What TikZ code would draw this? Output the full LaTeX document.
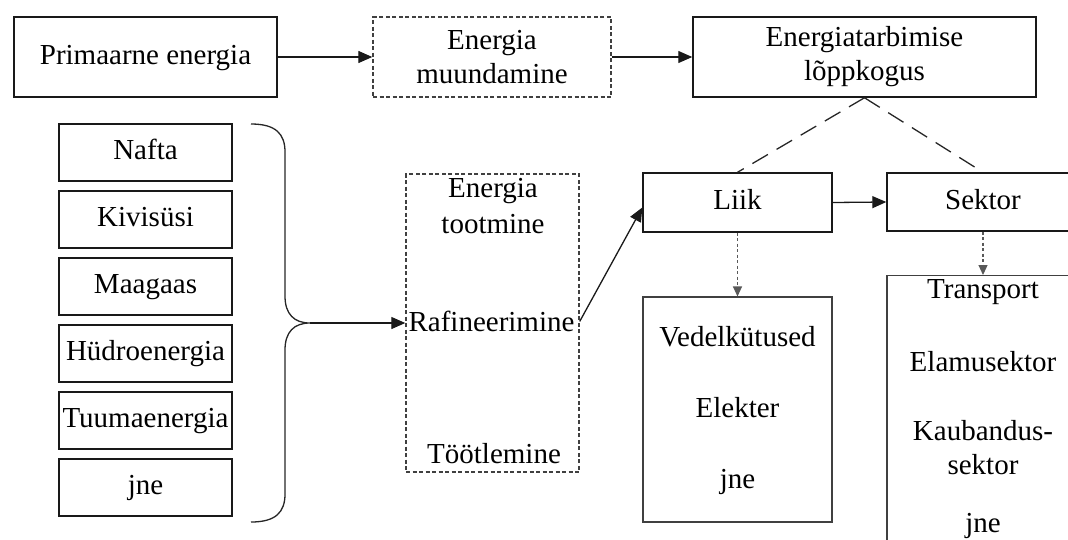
\documentclass[tikz,border=0pt]{standalone}
\usepackage{fontspec}
\setmainfont{Liberation Serif}
\newfontfamily\diagfont{Liberation Serif}
\usetikzlibrary{arrows.meta,calc}
\begin{document}
\begin{tikzpicture}[x=1pt,y=-1pt,
  every node/.style={font=\diagfont\fontsize{29}{34}\selectfont, text=black},
  box/.style={draw=black!90, line width=1.5pt, rectangle, inner sep=0pt, align=center},
  oneline/.style={text height=20pt, text depth=6pt},
  dotbox/.style={draw=black!75, line width=1.4pt, dash pattern=on 4pt off 2.5pt, rectangle, inner sep=0pt, align=center},
  listbox/.style={draw=black!75, line width=1.1pt, rectangle, inner sep=0pt},
  lbl/.style={anchor=base, inner sep=0pt},
  flow/.style={draw=black!90, line width=1.3pt, -{Triangle[length=14pt,width=12pt]}},
  link/.style={draw=black!85, line width=1.3pt, dash pattern=on 18pt off 10pt},
  drop/.style={draw=black!65, line width=1.2pt, dash pattern=on 3pt off 2.5pt, -{Triangle[length=10pt,width=9pt]}},
  bracket/.style={draw=black!85, line width=1.3pt},
]
\useasboundingbox (0,0) rectangle (1068,539);
\clip (0,0) rectangle (1068,539);

% top row
\node[box, oneline, minimum width=263pt, minimum height=80pt] (prim) at (145.5,57) {Primaarne energia};
\node[dotbox, minimum width=238pt, minimum height=80pt] (muund) at (492,57) {Energia\\muundamine};
\node[box, minimum width=343pt, minimum height=80pt] (tarb) at (864.5,57) {Energiatarbimise\\lõppkogus};

\draw[flow] (prim.east) -- (muund.west);
\draw[flow] (muund.east) -- (tarb.west);

% energy sources
\foreach \t [count=\i] in {Nafta, Kivisüsi, Maagaas, Hüdroenergia, Tuumaenergia, jne}
  \node[box, oneline, line width=1.4pt, minimum width=173pt, minimum height=57pt] (src\i) at (145.5,{152.5+67*(\i-1)}) {\t};

% curly bracket gathering the sources
\coordinate (bt) at (310,323);
\draw[bracket] (251,124) .. controls (276,124) and (285,134) .. (285,152) -- (285,296)
  .. controls (285,314) and (294,323) .. (bt)
  .. controls (294,323) and (285,332) .. (285,350) -- (285,494)
  .. controls (285,512) and (276,522) .. (251,522);

% conversion stages
\node[dotbox, minimum width=173pt, minimum height=298pt] (toot) at (492.5,323) {};
\node[lbl] (tootA) at (493,197) {Energia};
\node[lbl] (tootB) at (493,233) {tootmine};
\node[lbl] (raf) at (491.5,331.5) {Rafineerimine};
\node[lbl] (tootl) at (494,463) {Töötlemine};

\draw[flow] (bt) -- (toot.west);

% consumption breakdown
\node[box, oneline, line width=1.4pt, minimum width=189pt, minimum height=59pt] (liik) at (737.5,202.5) {Liik};
\node[box, oneline, line width=1.4pt, minimum width=192pt, minimum height=58pt] (sektor) at (983,202) {Sektor};

\draw[flow] (toot.east |- raf) -- ([yshift=-5pt]liik.west);
\draw[flow] (liik.east) -- (sektor.west);
\draw[link] (tarb.south) -- (liik.north);
\draw[link] (tarb.south) -- (sektor.north);

% fuel types
\node[listbox, minimum width=189pt, minimum height=225pt] (kind) at (737.5,409.5) {};
\node[lbl] (k1) at (737.5,346) {Vedelkütused};
\node[lbl] (k2) at (737.5,417) {Elekter};
\node[lbl] (k3) at (737.5,488) {jne};

% sectors
\node[listbox, anchor=north, minimum width=192pt, minimum height=320pt] (sect) at (983,275) {};
\node[lbl] (s1) at (983,298) {Transport};
\node[lbl] (s2) at (983,371) {Elamusektor};
\node[lbl] (s3) at (983,440) {Kaubandus-};
\node[lbl] (s4) at (983,474) {sektor};
\node[lbl] (s5) at (983,532) {jne};

\draw[drop] (liik.south) -- (kind.north);
\draw[drop] (sektor.south) -- (sect.north);
\end{tikzpicture}
\end{document}
